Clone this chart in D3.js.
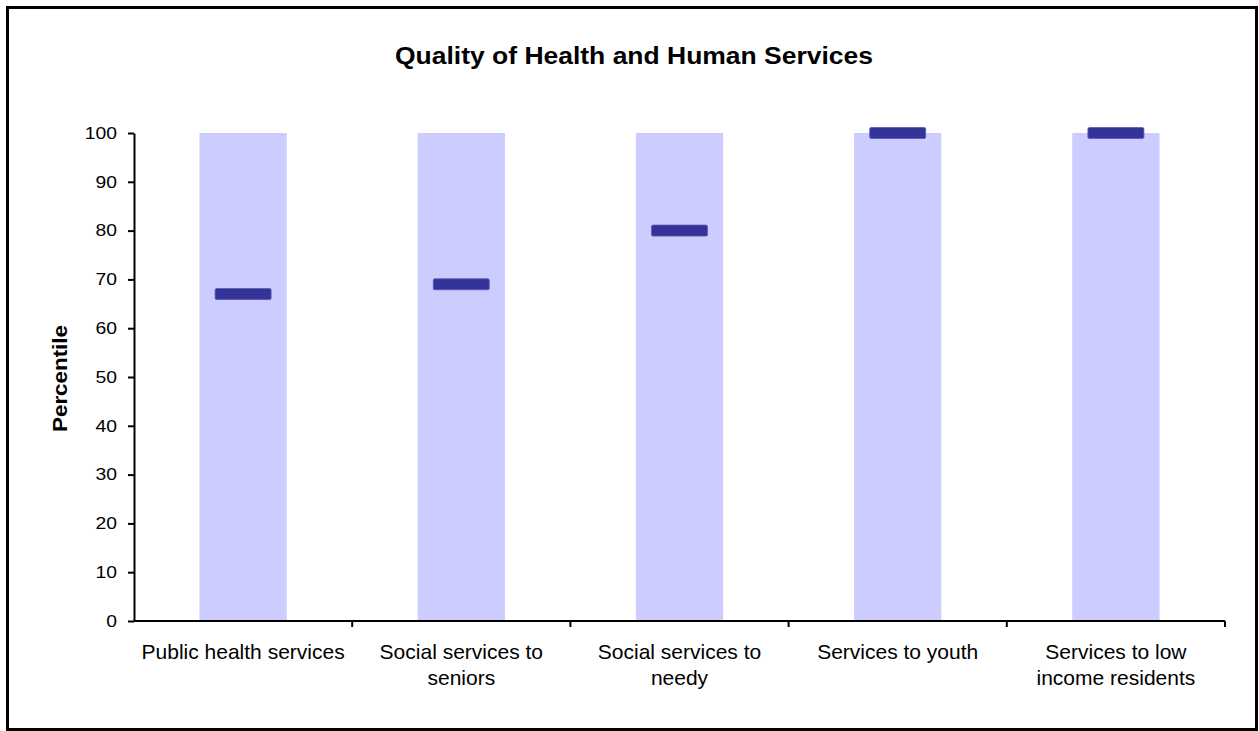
<!DOCTYPE html>
<html><head><meta charset="utf-8">
<script src="https://cdn.jsdelivr.net/npm/d3@7"></script>
<style>body{margin:0;background:#fff;font-family:Arial,"Liberation Sans",sans-serif;}</style>
</head><body><svg id="c" width="1259" height="731"></svg>
<script>
const categories = [["Public health services"],["Social services to","seniors"],["Social services to","needy"],["Services to youth"],["Services to low","income residents"]];
const rangeMax = [100,100,100,100,100];
const values = [67,69,80,100,100];
const yTicks = [0,10,20,30,40,50,60,70,80,90,100];

const FF = "Arial,'Liberation Sans',sans-serif";
const svg = d3.select("#c");
svg.append("rect").attr("x",7.5).attr("y",7.5).attr("width",1249).attr("height",722)
  .attr("fill","#fff").attr("stroke","#000").attr("stroke-width",3);

const m = {l:134,r:1225,t:133,b:621};
const x = d3.scaleBand().domain(d3.range(categories.length)).range([m.l,m.r]).paddingInner(0).paddingOuter(0);
const y = d3.scaleLinear().domain([0,100]).range([m.b,m.t]);

svg.append("text").attr("x",634).attr("y",64).attr("text-anchor","middle")
  .attr("font-size",23).attr("font-weight","bold").attr("font-family",FF)
  .attr("textLength",478).attr("lengthAdjust","spacingAndGlyphs")
  .text("Quality of Health and Human Services");

const bw = x.bandwidth()*0.4;
svg.selectAll(".bar").data(rangeMax).join("rect")
  .attr("x",(d,i)=>x(i)+x.bandwidth()/2-bw/2).attr("width",bw)
  .attr("y",d=>y(d)).attr("height",d=>y(0)-y(d)).attr("fill","#ccccff");

const mw = 56, mh = 11;
svg.selectAll(".mk").data(values).join("rect")
  .attr("x",(d,i)=>x(i)+x.bandwidth()/2-mw/2).attr("width",mw)
  .attr("y",d=>y(d)-mh/2).attr("height",mh).attr("rx",1.5)
  .attr("fill","#333399").attr("stroke","#5b5bb0").attr("stroke-width",0.8);

// y axis
const ya = svg.append("g").attr("transform",`translate(${m.l},0)`)
  .call(d3.axisLeft(y).tickValues(yTicks).tickSize(6).tickSizeOuter(0).tickPadding(11));
ya.select(".domain").attr("stroke","#000").attr("stroke-width",2);
ya.selectAll(".tick line").attr("stroke","#000").attr("stroke-width",2);
ya.selectAll("text").attr("font-size",16.5).attr("font-family",FF).attr("fill","#000")
  .each(function(){ const L=this.getComputedTextLength(); d3.select(this).attr("textLength",L*1.17).attr("lengthAdjust","spacingAndGlyphs"); });

// x axis
const xg = svg.append("g").attr("transform",`translate(0,${m.b})`);
xg.append("line").attr("x1",m.l).attr("x2",m.r).attr("stroke","#000").attr("stroke-width",2);
const tickXs = d3.range(categories.length+1).map(i=> i<categories.length ? x(i) : m.r);
xg.selectAll(".xt").data(tickXs.slice(1)).join("line")
  .attr("x1",d=>d).attr("x2",d=>d).attr("y1",0).attr("y2",6).attr("stroke","#000").attr("stroke-width",2);
const lbl = xg.selectAll(".xl").data(categories).join("text")
  .attr("text-anchor","middle").attr("font-size",21).attr("font-family",FF).attr("fill","#000")
  .attr("transform",(d,i)=>`translate(${x(i)+x.bandwidth()/2},38)`);
lbl.selectAll("tspan").data(d=>d).join("tspan").attr("x",0).attr("dy",(d,j)=>j===0?0:26).text(d=>d);

svg.append("text").attr("transform","translate(67,378.5) rotate(-90)").attr("text-anchor","middle")
  .attr("font-size",20).attr("font-weight","bold").attr("font-family",FF)
  .attr("textLength",107).attr("lengthAdjust","spacingAndGlyphs").text("Percentile");
</script></body></html>
